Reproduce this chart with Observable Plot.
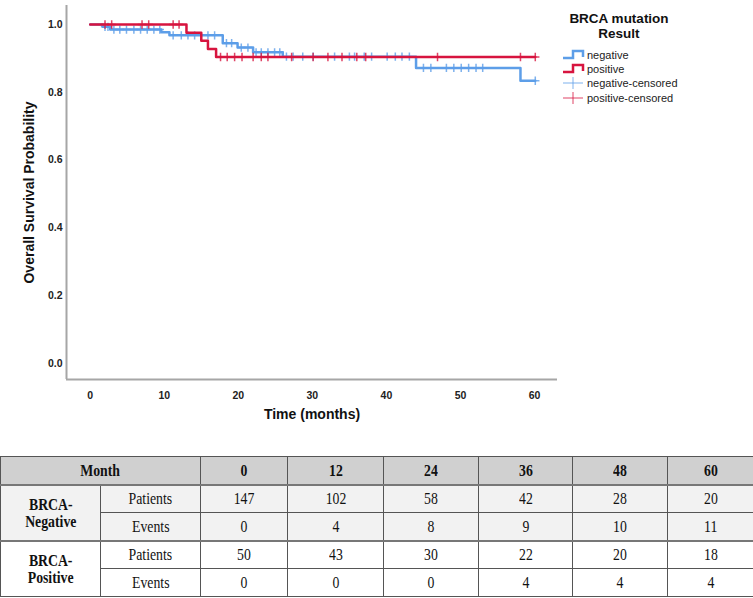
<!DOCTYPE html>
<html><head><meta charset="utf-8">
<script src="https://cdn.jsdelivr.net/npm/d3@7"></script>
<script src="https://cdn.jsdelivr.net/npm/@observablehq/plot@0.6"></script>
<style>
body{margin:0;background:#fff;width:753px;height:598px;overflow:hidden;position:relative;font-family:"Liberation Sans",Arial,sans-serif;}
#chart{position:absolute;left:0;top:0;}
#legend{position:absolute;left:555px;top:0;width:198px;height:110px;}
#tbl{position:absolute;left:0;top:456px;}
table{border-collapse:collapse;width:753px;height:141px;table-layout:fixed;font-family:"Liberation Serif","Times New Roman",serif;font-size:16px;color:#111;}
td,th{border:1px solid #555;text-align:center;padding:0;line-height:17px;}
td span, th span{display:inline-block;transform:scaleX(0.86);}
tr{height:28px;}
tr.hd th{background:#d0d0d0;font-weight:bold;border-bottom:2px solid #777;}
tr.neg td, tr.neg th{background:#f2f2f2;}
tr.negE td{border-bottom:2px solid #777;}
th.grp{font-weight:bold;border-bottom:2px solid #777;}
tr.pos th.grp{border-bottom:1px solid #555;}
</style></head><body>
<div id="chart"></div><div id="legend"></div><div id="tbl"></div>
<script>
// Kaplan-Meier step data (time in months, survival probability)
const negTime = [0, 1.7, 2.7, 9.6, 10.7, 17.9, 19.9, 22.0, 26.0, 44.0, 58.1, 60.1];
const negSurv = [1.0, 0.993, 0.985, 0.977, 0.968, 0.945, 0.932, 0.918, 0.905, 0.872, 0.834, 0.834];
const posTime = [0, 13.0, 15.0, 15.9, 17.0, 60.1];
const posSurv = [1.0, 0.976, 0.952, 0.928, 0.904, 0.904];
// censored times
const negCensored = [2.0, 2.4, 3.2, 4.0, 4.9, 5.9, 6.8, 7.7, 8.6, 9.4, 11.2, 12.3, 13.2, 14.1, 15.9, 16.8, 18.4, 19.1, 20.4, 21.3, 22.4, 23.1, 24.0, 24.9, 25.6, 26.5, 27.4, 28.7, 30.1, 33.0, 35.0, 35.7, 37.0, 38.0, 40.1, 41.2, 42.1, 43.1, 45.0, 46.0, 48.1, 49.1, 50.1, 51.1, 52.1, 53.0, 60.1];
const posCensored = [2.0, 2.9, 7.0, 7.9, 11.2, 12.0, 17.6, 18.5, 19.5, 20.5, 22.0, 23.1, 24.0, 27.2, 30.1, 32.1, 34.0, 36.0, 37.2, 46.9, 58.1, 60.1];
const groups = ["negative", "positive"];
const xTicks = [0, 10, 20, 30, 40, 50, 60];
const yTicks = [0, 0.2, 0.4, 0.6, 0.8, 1.0];
// risk table
const months = [0, 12, 24, 36, 48, 60];
const negPatients = [147, 102, 58, 42, 28, 20];
const negEvents = [0, 4, 8, 9, 10, 11];
const posPatients = [50, 43, 30, 22, 20, 18];
const posEvents = [0, 0, 0, 4, 4, 4];

const blue = "#5d9ee8", red = "#d7143f";
const xMin = -3.2, xMax = 63.1, yMin = -0.047, yMax = 1.056;

function survAt(times, surv, t) {
  let s = surv[0];
  for (let i = 0; i < times.length; i++) if (times[i] <= t) s = surv[i];
  return s;
}
const negLine = negTime.map((t, i) => ({t, s: negSurv[i]}));
const posLine = posTime.map((t, i) => ({t, s: posSurv[i]}));
const negCens = negCensored.map(t => ({t, s: survAt(negTime, negSurv, t)}));
const posCens = posCensored.map(t => ({t, s: survAt(posTime, posSurv, t)}));

const plot = Plot.plot({
  width: 753, height: 456,
  marginLeft: 66, marginRight: 196, marginTop: 5, marginBottom: 77,
  style: {fontFamily: "'Liberation Sans', Arial, sans-serif", fontWeight: "bold", fontSize: "10.5px", color: "#222", background: "#fff"},
  x: {domain: [xMin, xMax]},
  y: {domain: [yMin, yMax]},
  marks: [
    Plot.axisX({ticks: xTicks, tickSize: 0, tickPadding: 12, tickFormat: d => d, label: null}),
    Plot.axisY({ticks: yTicks, tickSize: 0, tickPadding: 4, tickFormat: d3.format(".1f"), label: null}),
    Plot.ruleX([xMin], {stroke: "#a6a6a6", strokeWidth: 2}),
    Plot.ruleY([yMin], {stroke: "#a6a6a6", strokeWidth: 2}),
    Plot.text(["Time (months)"], {text: d => d, frameAnchor: "bottom", dy: 39, fontSize: 14, fontWeight: "bold", fill: "#111"}),
    Plot.text(["Overall Survival Probability"], {text: d => d, frameAnchor: "left", textAnchor: "middle", rotate: -90, dx: -37, fontSize: 14, fontWeight: "bold", fill: "#111"}),
    Plot.line(negLine, {x: "t", y: "s", curve: "step-after", stroke: blue, strokeWidth: 2.5}),
    Plot.dot(negCens, {x: "t", y: "s", symbol: "plus", r: 2.8, stroke: blue, strokeWidth: 1.5, strokeOpacity: 0.8}),
    Plot.line(posLine, {x: "t", y: "s", curve: "step-after", stroke: red, strokeWidth: 2.5}),
    Plot.dot(posCens, {x: "t", y: "s", symbol: "plus", r: 2.8, stroke: red, strokeWidth: 1.5, strokeOpacity: 0.8})
  ]
});
document.getElementById("chart").appendChild(plot);

// legend
const leg = d3.select("#legend").append("svg").attr("width", 198).attr("height", 110)
  .style("font-family", "'Liberation Sans', Arial, sans-serif");
leg.append("text").attr("x", 64).attr("y", 23).attr("text-anchor", "middle").attr("font-weight", "bold").attr("font-size", 13.5).attr("fill", "#111").text("BRCA mutation");
leg.append("text").attr("x", 64).attr("y", 38).attr("text-anchor", "middle").attr("font-weight", "bold").attr("font-size", 13.5).attr("fill", "#111").text("Result");
const items = [
  {label: groups[0], color: blue, type: "line"},
  {label: groups[1], color: red, type: "line"},
  {label: groups[0] + "-censored", color: blue, type: "cens"},
  {label: groups[1] + "-censored", color: red, type: "cens"}
];
const cy = [55, 69, 83, 98];
items.forEach((it, i) => {
  const c = cy[i];
  if (it.type === "line") {
    leg.append("path").attr("d", `M8,${c + 3}H18V${c - 4}H28V${c + 2}`).attr("fill", "none").attr("stroke", it.color).attr("stroke-width", 2.5);
  } else {
    leg.append("path").attr("d", `M8,${c}H28M18,${c - 6}V${c + 6}`).attr("fill", "none").attr("stroke", it.color).attr("stroke-width", 1).attr("stroke-opacity", 0.8);
  }
  leg.append("text").attr("x", 32).attr("y", c + 4).attr("font-size", 11).attr("fill", "#222").text(it.label);
});

// risk table
const cols = [100, 100, 87, 96, 95, 94, 95, 86];
const cell = (v, tag = "td") => `<${tag}><span>${v}</span></${tag}>`;
const row = (vals) => vals.map(v => cell(v)).join("");
document.getElementById("tbl").innerHTML = `
<table>
<colgroup>${cols.map(w => `<col style="width:${w}px">`).join("")}</colgroup>
<tr class="hd"><th colspan="2"><span>Month</span></th>${months.map(m => cell(m, "th")).join("")}</tr>
<tr class="neg"><th class="grp" rowspan="2"><span>BRCA-<br>Negative</span></th>${cell("Patients")}${row(negPatients)}</tr>
<tr class="neg negE">${cell("Events")}${row(negEvents)}</tr>
<tr class="pos"><th class="grp" rowspan="2"><span>BRCA-<br>Positive</span></th>${cell("Patients")}${row(posPatients)}</tr>
<tr class="pos">${cell("Events")}${row(posEvents)}</tr>
</table>`;
</script>
</body></html>
